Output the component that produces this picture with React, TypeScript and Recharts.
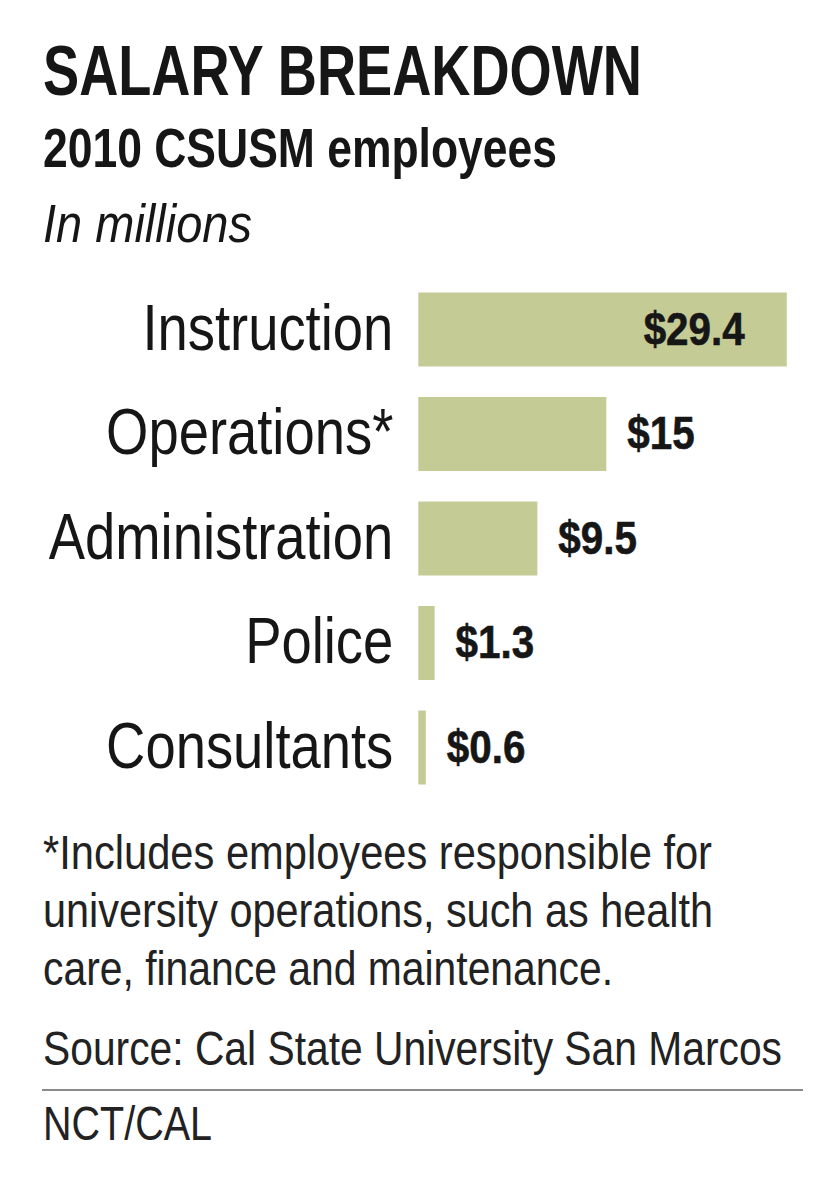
import { BarChart, Bar, XAxis, YAxis, LabelList } from 'recharts';

// Salary by category, millions of dollars (2010 CSUSM employees)
const categories = ['Instruction', 'Operations*', 'Administration', 'Police', 'Consultants'];
const salaries = [29.4, 15, 9.5, 1.3, 0.6];
const valueLabels = ['$29.4', '$15', '$9.5', '$1.3', '$0.6'];
const xDomain: [number, number] = [0, 30];

const footnoteLines = [
  '*Includes employees responsible for',
  'university operations, such as health',
  'care, finance and maintenance.',
];

const data = categories.map((name, i) => ({
  name,
  value: salaries[i],
  label: valueLabels[i],
}));

const FONT = '"Liberation Sans", Arial, sans-serif';
const INK = '#161616';
const BAR_FILL = '#c5cb95';

const CategoryTick = (props: any) => {
  const { x, y, payload } = props;
  return (
    <g transform={`translate(${x},${y + 20}) scale(0.85,1)`}>
      <text textAnchor="end" fontFamily={FONT} fontSize={64} fill={INK}>
        {payload.value}
      </text>
    </g>
  );
};

const ValueLabel = (props: any) => {
  const { x, y, width, height, value } = props;
  const inside = width > 200;
  const tx = inside ? x + width - 42 : x + width + 21;
  return (
    <g transform={`translate(${tx},${y + height / 2 + 15}) scale(0.86,1)`}>
      <text
        textAnchor={inside ? 'end' : 'start'}
        fontFamily={FONT}
        fontWeight={700}
        fontSize={47}
        fill={INK}
        stroke={INK}
        strokeWidth={0.6}
      >
        {value}
      </text>
    </g>
  );
};

// condensed line of text: scaled group so the box on screen is the real one
const NarrowText = ({ x, y, width, scale, children, ...rest }: any) => (
  <g transform={`translate(${x},${y}) scale(${scale},1)`}>
    <text
      x={0}
      y={0}
      fontFamily={FONT}
      textLength={width / scale}
      lengthAdjust="spacingAndGlyphs"
      {...rest}
    >
      {children}
    </text>
  </g>
);

const App = () => {
  return (
    <div
      style={{
        position: 'absolute',
        left: 0,
        top: 0,
        width: 840,
        height: 1182,
        background: '#ffffff',
        overflow: 'hidden',
      }}
    >
      <BarChart
        width={840}
        height={1182}
        data={data}
        layout="vertical"
        margin={{ top: 277.5, right: 45.7, bottom: 382, left: 0 }}
        barSize={74}
      >
        <XAxis type="number" domain={xDomain} hide />
        <YAxis
          type="category"
          dataKey="name"
          width={418.3}
          axisLine={false}
          tickLine={false}
          tickSize={0}
          tickMargin={25}
          tick={<CategoryTick />}
          interval={0}
        />
        <Bar dataKey="value" fill={BAR_FILL} isAnimationActive={false}>
          <LabelList dataKey="label" content={<ValueLabel />} />
        </Bar>
      </BarChart>

      <svg
        width={840}
        height={1182}
        style={{ position: 'absolute', left: 0, top: 0, pointerEvents: 'none' }}
      >
        <NarrowText x={43} y={95} width={599} scale={0.77} fontWeight={700} fontSize={71} fill={INK}>
          SALARY BREAKDOWN
        </NarrowText>
        <NarrowText x={43} y={167} width={514} scale={0.81} fontWeight={700} fontSize={56} fill={INK}>
          2010 CSUSM employees
        </NarrowText>
        <NarrowText x={43} y={242} width={209} scale={0.87} fontStyle="italic" fontSize={54} fill={INK}>
          In millions
        </NarrowText>

        {footnoteLines.map((line, i) => (
          <NarrowText
            key={line}
            x={43}
            y={869 + i * 58}
            width={[669, 670, 570][i]}
            scale={0.87}
            fontSize={48}
            fill="#222"
          >
            {line}
          </NarrowText>
        ))}

        <NarrowText x={43} y={1065} width={739} scale={0.86} fontSize={48} fill="#222">
          Source: Cal State University San Marcos
        </NarrowText>
        <line x1={42} x2={803} y1={1090} y2={1090} stroke="#8a8a8a" strokeWidth={2} />
        <NarrowText x={43} y={1140} width={169} scale={0.87} fontSize={48} fill="#222">
          NCT/CAL
        </NarrowText>
      </svg>
    </div>
  );
};

export default App;
